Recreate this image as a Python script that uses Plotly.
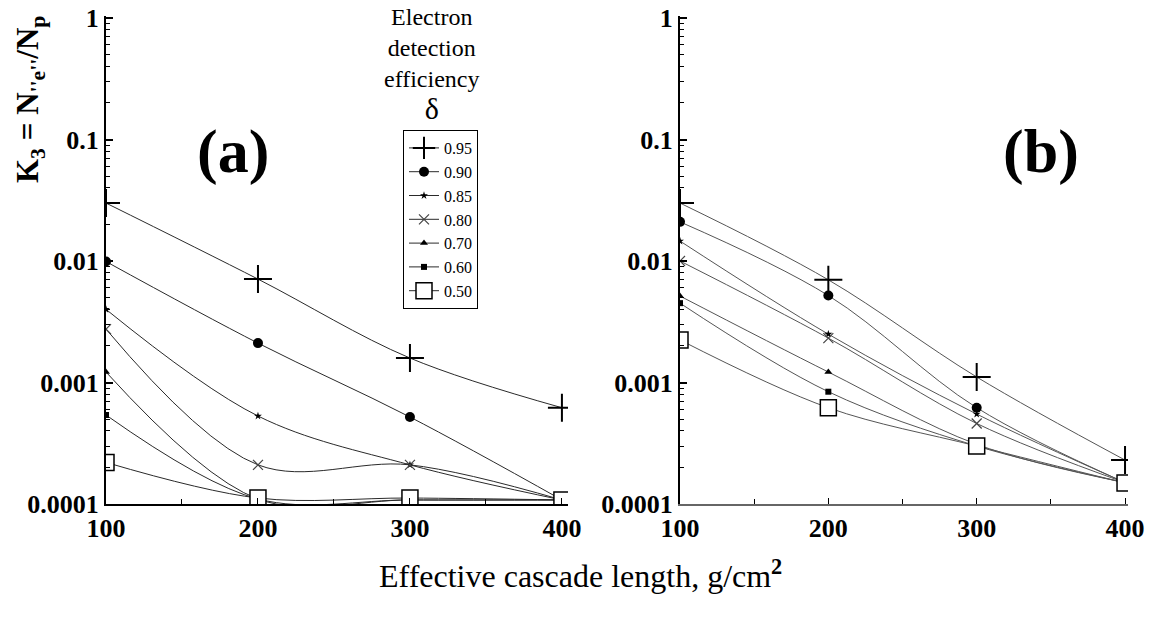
import plotly.graph_objects as go

# ---------------- data ----------------
x_len = [100, 200, 300, 400]
deltas = ["0.95", "0.90", "0.85", "0.80", "0.70", "0.60", "0.50"]

# panel (a)
a_095 = [0.030, 0.0071, 0.00159, 0.00062]
a_090 = [0.0099, 0.00211, 0.00052, 0.000108]
a_085 = [0.0040, 0.00053, 0.00021, 0.000108]
a_080 = [0.00275, 0.00021, 0.00021, 0.000108]
a_070 = [0.00122, 0.000110, 0.000108, 0.000108]
a_060 = [0.00054, 0.000110, 0.000108, 0.000108]
a_050 = [0.00022, 0.000112, 0.000112, 0.000108]

# panel (b)
b_095 = [0.030, 0.0070, 0.00111, 0.00023]
b_090 = [0.021, 0.0052, 0.00062, 0.00015]
b_085 = [0.0146, 0.0025, 0.00055, 0.00015]
b_080 = [0.0100, 0.00232, 0.00046, 0.00015]
b_070 = [0.00515, 0.00122, 0.00031, 0.00015]
b_060 = [0.0045, 0.00084, 0.00030, 0.00015]
b_050 = [0.00224, 0.00062, 0.00030, 0.000149]

panel_a = [a_095, a_090, a_085, a_080, a_070, a_060, a_050]
panel_b = [b_095, b_090, b_085, b_080, b_070, b_060, b_050]

y_tickvals = [1, 0.1, 0.01, 0.001, 0.0001]
y_ticktext = ["1", "0.1", "0.01", "0.001", "0.0001"]
x_tickvals = [100, 200, 300, 400]
x_minor = [150, 250, 350]
y_minor = [m * 10 ** e for e in range(-4, 0) for m in range(2, 10)]

# ---------------- styles ----------------
marker_styles = [
    dict(symbol="cross-thin", size=20, color="black", line=dict(width=2, color="black")),
    dict(symbol="circle", size=10, color="black"),
    dict(symbol="star", size=6, color="black"),
    dict(symbol="x-thin", size=10, color="#444", line=dict(width=1.2, color="#444")),
    dict(symbol="triangle-up", size=7, color="black"),
    dict(symbol="square", size=6, color="black"),
    dict(symbol="square", size=16, color="white", line=dict(width=1.5, color="black")),
]

SERIF = "Liberation Serif"
fig = go.Figure()

for i, name in enumerate(deltas):
    fig.add_trace(go.Scatter(
        x=x_len, y=panel_a[i], mode="lines+markers", name=name,
        line=dict(color="#2a2a2a", width=1, shape="spline", smoothing=1),
        marker=marker_styles[i], xaxis="x", yaxis="y",
        showlegend=True,
    ))
for i, name in enumerate(deltas):
    fig.add_trace(go.Scatter(
        x=x_len, y=panel_b[i], mode="lines+markers", name=name,
        line=dict(color="#555", width=1, shape="spline", smoothing=1),
        marker=marker_styles[i], xaxis="x2", yaxis="y2", showlegend=False,
    ))

W, H = 1150, 621
def px_x(p):
    return p / W
def px_y(p):
    return 1 - p / H

ydom = [px_y(504), px_y(15.6)]
tickfont = dict(family=SERIF, size=26, color="black", weight="bold")

common_y = dict(
    type="log", range=[-4, 0.02], tickmode="array", tickvals=y_tickvals, ticktext=y_ticktext,
    ticks="inside", ticklen=7, tickwidth=1.5, tickcolor="black",
    showline=True, linecolor="black", linewidth=2, showgrid=False, zeroline=False,
    tickfont=tickfont, domain=ydom, automargin=False,
    minor=dict(ticks="inside", ticklen=4, tickwidth=1, tickcolor="black", tickvals=y_minor, showgrid=False),
)
common_x = dict(
    tickmode="array", tickvals=x_tickvals, ticks="inside", ticklen=6, tickwidth=1.2, tickcolor="black",
    showline=True, linewidth=2, showgrid=False, zeroline=False, tickfont=tickfont, automargin=False,
    minor=dict(ticks="inside", ticklen=5, tickwidth=1, tickcolor="black", tickvals=x_minor, showgrid=False),
)

fig.update_layout(
    width=W, height=H, margin=dict(l=0, r=0, t=0, b=0, autoexpand=False),
    paper_bgcolor="white", plot_bgcolor="white",
    font=dict(family=SERIF, color="black"),
    xaxis=dict(common_x, range=[100, 404], domain=[px_x(106), px_x(568)], anchor="y", linecolor="black"),
    yaxis=dict(common_y, anchor="x"),
    xaxis2=dict(common_x, range=[100, 402], domain=[px_x(680), px_x(1128)], anchor="y2", linecolor="#666"),
    yaxis2=dict(common_y, anchor="x2"),
    legend=dict(
        x=px_x(403), y=px_y(130), xanchor="left", yanchor="top",
        bgcolor="white", bordercolor="black", borderwidth=1,
        font=dict(family=SERIF, size=16, color="black"),
        itemwidth=30, tracegroupgap=0,
    ),
    showlegend=True,
)

def note(x, y, text, size, angle=0, anchor_y="middle"):
    fig.add_annotation(x=px_x(x), y=px_y(y), xref="paper", yref="paper", showarrow=False,
                       xanchor="center", yanchor=anchor_y, textangle=angle, text=text,
                       font=dict(family=SERIF, size=size, color="black"))

note(233, 152, "<b>(a)</b>", 62)
note(1041, 152, "<b>(b)</b>", 62)
note(580, 574, "Effective cascade length, g/cm<sup><b>2</b></sup>", 32)
note(30, 100, "<b>K<sub>3</sub> = N<sub>''e''</sub>/N<sub>p</sub></b>", 31, angle=-90)
note(432, 2, "Electron<br>detection<br>efficiency<br><span style='font-size:30px'>δ</span>", 24,
     anchor_y="top")

fig.write_html("out.html")
